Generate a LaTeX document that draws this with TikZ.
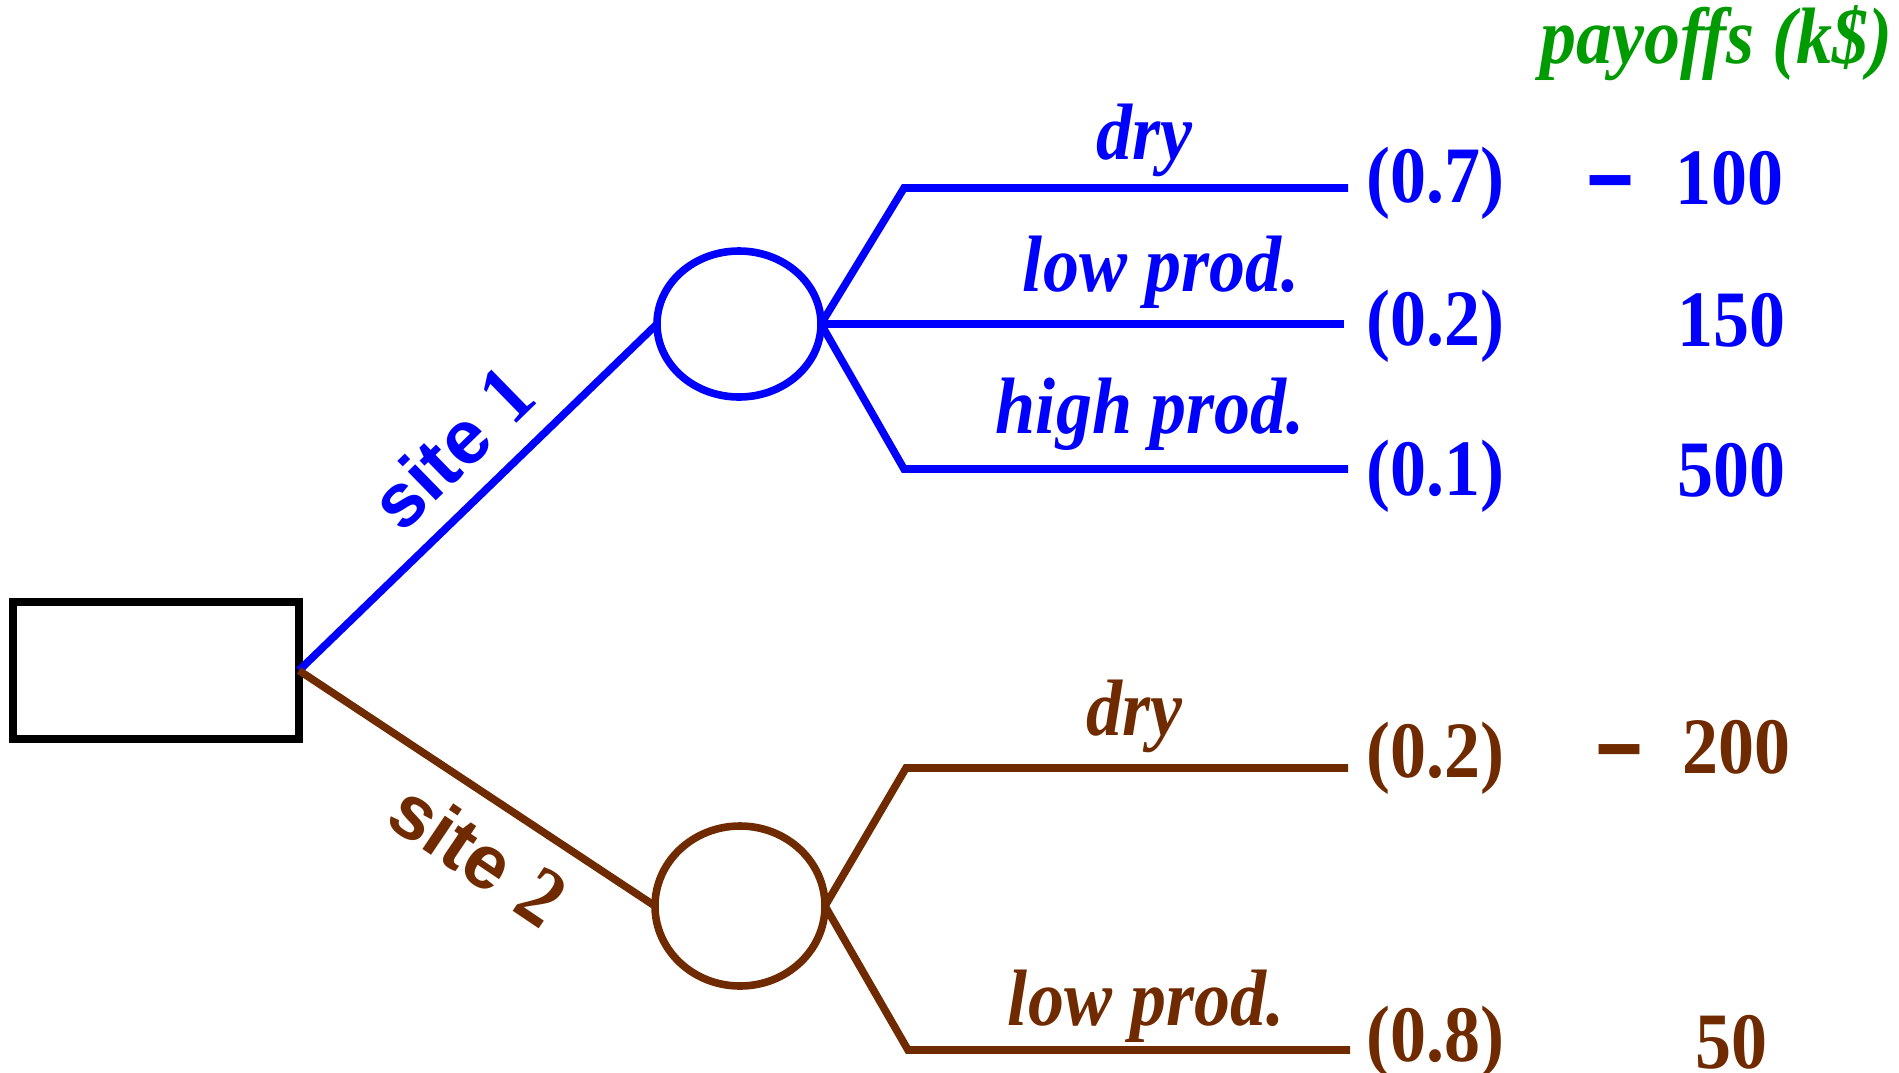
\documentclass[tikz,border=0pt]{standalone}
\usepackage{fontspec}
\setmainfont{Liberation Serif}[FakeStretch=0.9]
\newfontfamily\sitefont{Liberation Sans}
\newfontfamily\dashfont{DejaVu Sans}
\usetikzlibrary{shapes.geometric}

\definecolor{treeblue}{RGB}{0,0,255}
\definecolor{treebrown}{RGB}{112,42,0}
\definecolor{paygreen}{RGB}{0,155,0}

\begin{document}
\begin{tikzpicture}[x=0.5pt,y=-0.5pt,
  branch/.style={line width=3.8pt, line join=miter},
  lbl/.style={font=\fontsize{40}{48}\selectfont\bfseries\itshape, inner sep=0, anchor=base},
  num/.style={font=\fontsize{40}{48}\selectfont\bfseries, inner sep=0, anchor=base},
  signlbl/.style={font=\fontsize{40}{48}\selectfont\dashfont\bfseries, inner sep=0, anchor=base},
  sitelbl/.style={font=\fontsize{38}{46}\selectfont, inner sep=0},
  chance/.style={ellipse, draw, line width=3.8pt, inner sep=0, outer sep=0},
]
\useasboundingbox (0,0) rectangle (1899,1072);

% decision node and the two chance nodes
\node[draw, line width=4pt, minimum width=143pt, minimum height=68.5pt,
      inner sep=0, outer sep=0] (dec) at (156,670.5) {};
\node[chance, treeblue, minimum width=82pt, minimum height=73pt] (c1) at (739,324) {};
\node[chance, treebrown, minimum width=85pt, minimum height=80pt] (c2) at (740,906) {};

% choices
\draw[branch, treeblue] (dec.east) -- (c1.west);
\draw[branch, treebrown] (dec.east) -- (c2.west);
\node[sitelbl, treeblue, rotate=44.3] (s1) at (452,448)
  {{\sitefont\bfseries site}\hspace{0.3em}{\fontsize{42}{46}\selectfont\bfseries 1}};
\node[sitelbl, treebrown, rotate=-34] (s2) at (478,854)
  {{\sitefont\bfseries site}\hspace{0.3em}{\fontsize{42}{46}\selectfont\bfseries 2}};

% outcomes of site 1
\coordinate (a1k) at (904,188);  \coordinate (a1e) at (1348,188);
\coordinate (a2e) at (1344,324);
\coordinate (a3k) at (904,469);  \coordinate (a3e) at (1348,469);
\draw[branch, treeblue] (c1.east) -- (a1k) -- (a1e);
\draw[branch, treeblue] (c1.east) -- (a2e);
\draw[branch, treeblue] (c1.east) -- (a3k) -- (a3e);

% outcomes of site 2
\coordinate (b1k) at (906,768);  \coordinate (b1e) at (1348,768);
\coordinate (b2k) at (908,1050); \coordinate (b2e) at (1350,1050);
\draw[branch, treebrown] (c2.east) -- (b1k) -- (b1e);
\draw[branch, treebrown] (c2.east) -- (b2k) -- (b2e);

% outcome labels
\node[lbl, treeblue] (ta1) at (1144,159) {dry};
\node[lbl, treeblue] (ta2) at (1161,291) {low prod.};
\node[lbl, treeblue] (ta3) at (1150,433) {high prod.};
\node[lbl, treebrown] (tb1) at (1134,735) {dry};
\node[lbl, treebrown] (tb2) at (1146,1025) {low prod.};

% probabilities
\node[num, treeblue] (pa1) at (1435,202) {(0.7)};
\node[num, treeblue] (pa2) at (1435,345) {(0.2)};
\node[num, treeblue] (pa3) at (1435,495) {(0.1)};
\node[num, treebrown] (pb1) at (1435,777) {(0.2)};
\node[num, treebrown] (pb2) at (1435,1061) {(0.8)};

% payoffs
\node[lbl, paygreen, anchor=base east] (head) at (1893,63) {payoffs (k\$)};
\node[signlbl, treeblue] (ma1) at (1610,202) {\scalebox{1.3}[1]{\textendash}};
\node[num, treeblue] (va1) at (1729,204) {100};
\node[num, treeblue] (va2) at (1731,346) {150};
\node[num, treeblue] (va3) at (1731,496) {500};
\node[signlbl, treebrown] (mb1) at (1619,771) {\scalebox{1.3}[1]{\textendash}};
\node[num, treebrown] (vb1) at (1736,773) {200};
\node[num, treebrown] (vb2) at (1731,1068) {50};
\end{tikzpicture}
\end{document}
